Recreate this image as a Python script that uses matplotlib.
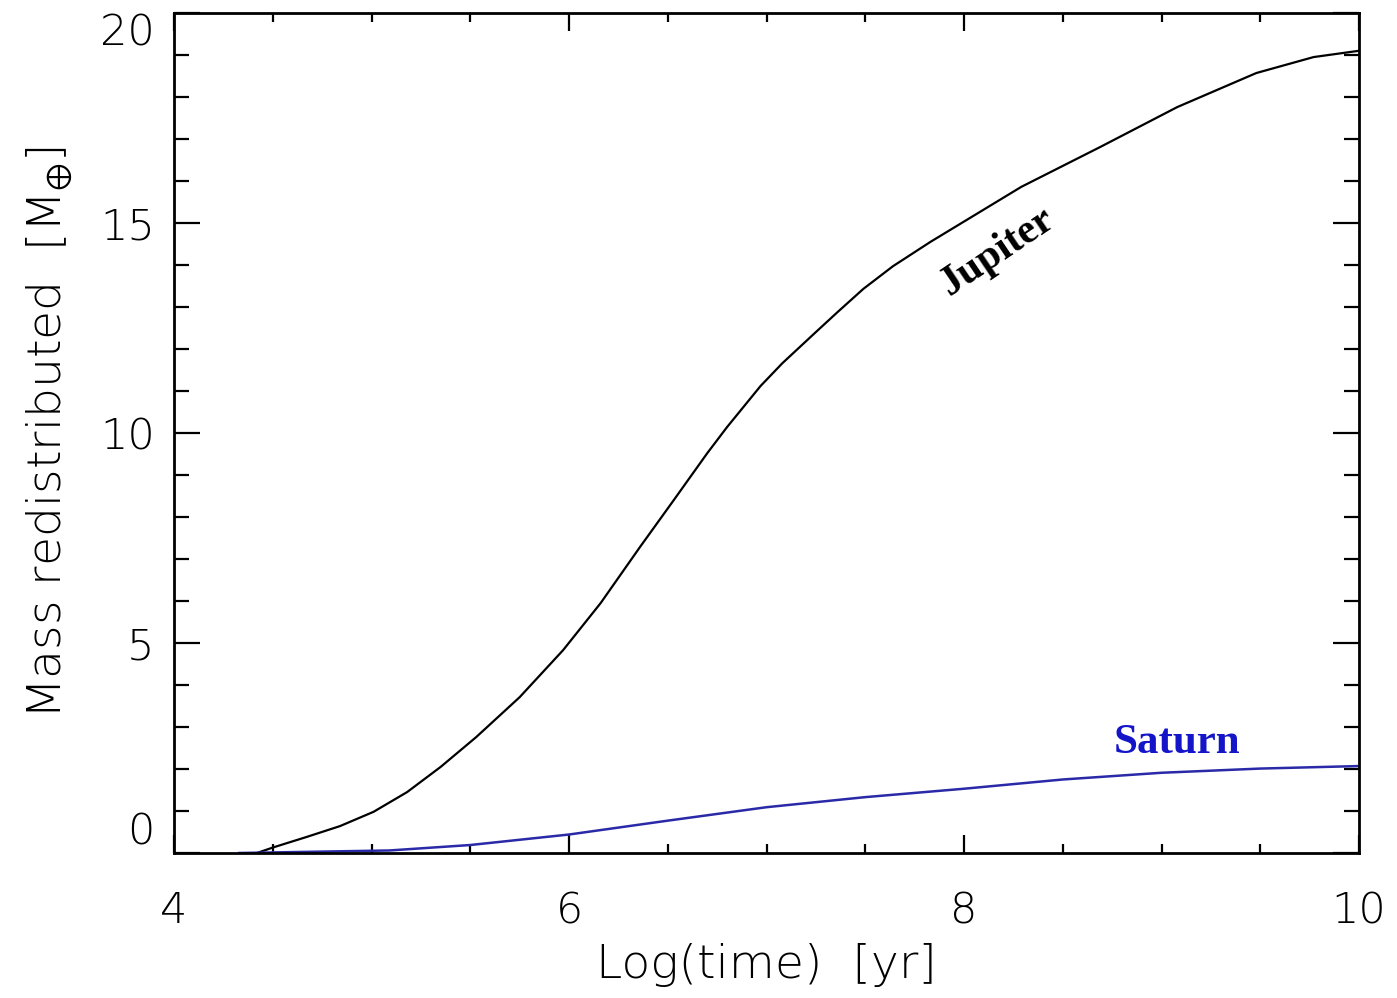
import numpy as np
import matplotlib
matplotlib.use("Agg")
import matplotlib.pyplot as plt
from matplotlib.ticker import MultipleLocator

# values
jup_x = [4.42, 4.50, 4.67, 4.84, 5.01, 5.18, 5.35, 5.53, 5.75, 5.97, 6.16, 6.36, 6.53,
         6.70, 6.80, 6.97, 7.08, 7.24, 7.36, 7.49, 7.64, 7.83, 8.29, 8.69, 9.08, 9.48,
         9.77, 10.0]
jup_y = [0.0, 0.13, 0.38, 0.64, 0.98, 1.45, 2.05, 2.76, 3.71, 4.83, 5.95, 7.29, 8.40,
         9.52, 10.14, 11.12, 11.66, 12.36, 12.88, 13.43, 13.97, 14.55, 15.86, 16.81,
         17.76, 18.57, 18.95, 19.10]

sat_x = [4.33, 5.09, 5.5, 6.0, 6.5, 7.0, 7.5, 8.0, 8.5, 9.0, 9.5, 10.0]
sat_y = [0.0, 0.06, 0.19, 0.44, 0.77, 1.09, 1.33, 1.53, 1.75, 1.91, 2.01, 2.07]

xticks = [4, 6, 8, 10]
yticks = [0, 5, 10, 15, 20]

# thin sans to mimic the IDL vector font
plt.rcParams['font.family'] = ['DejaVu Sans']
plt.rcParams['font.weight'] = 200
plt.rcParams['axes.labelweight'] = 200

fig = plt.figure(figsize=(13.97, 9.98), dpi=100)
ax = fig.add_axes([0.1246, 0.1453, 0.8482, 0.8417])

ax.plot(jup_x, jup_y, color='black', lw=1.6)
ax.plot(sat_x, sat_y, color='#2a2aa8', lw=1.8)

ax.text(8.17, 14.3, 'Jupiter', rotation=34, ha='center', va='center',
        family='Liberation Serif', weight='bold', fontsize=30, color='black')
ax.text(9.08, 2.62, 'Saturn', ha='center', va='center',
        family='Liberation Serif', weight='bold', fontsize=31, color='#1414c8')

ax.set_xlim(4, 10)
ax.set_ylim(0, 20)
ax.set_xticks(xticks)
ax.set_yticks(yticks)
ax.xaxis.set_minor_locator(MultipleLocator(0.5))
ax.yaxis.set_minor_locator(MultipleLocator(1))

for s in ax.spines.values():
    s.set_linewidth(2)
ax.tick_params(axis='both', which='both', direction='in', width=1.6,
               top=True, right=True, labelsize=31)
ax.tick_params(axis='x', which='major', length=13, pad=27)
ax.tick_params(axis='x', which='minor', length=6.5)
ax.tick_params(axis='y', which='major', length=19, pad=14)
ax.tick_params(axis='y', which='minor', length=11)

# IDL style: end labels kept inside the axis span
ylabs = ax.yaxis.get_major_ticks()
ylabs[0].label1.set_va('bottom')
ylabs[-1].label1.set_va('top')

ax.set_xlabel('Log(time)  [yr]', fontsize=34, labelpad=8)
ax.set_ylabel(r'Mass redistributed  [M$_{\oplus}$]', fontsize=34, labelpad=18)

fig.savefig('out.png', dpi=100)
